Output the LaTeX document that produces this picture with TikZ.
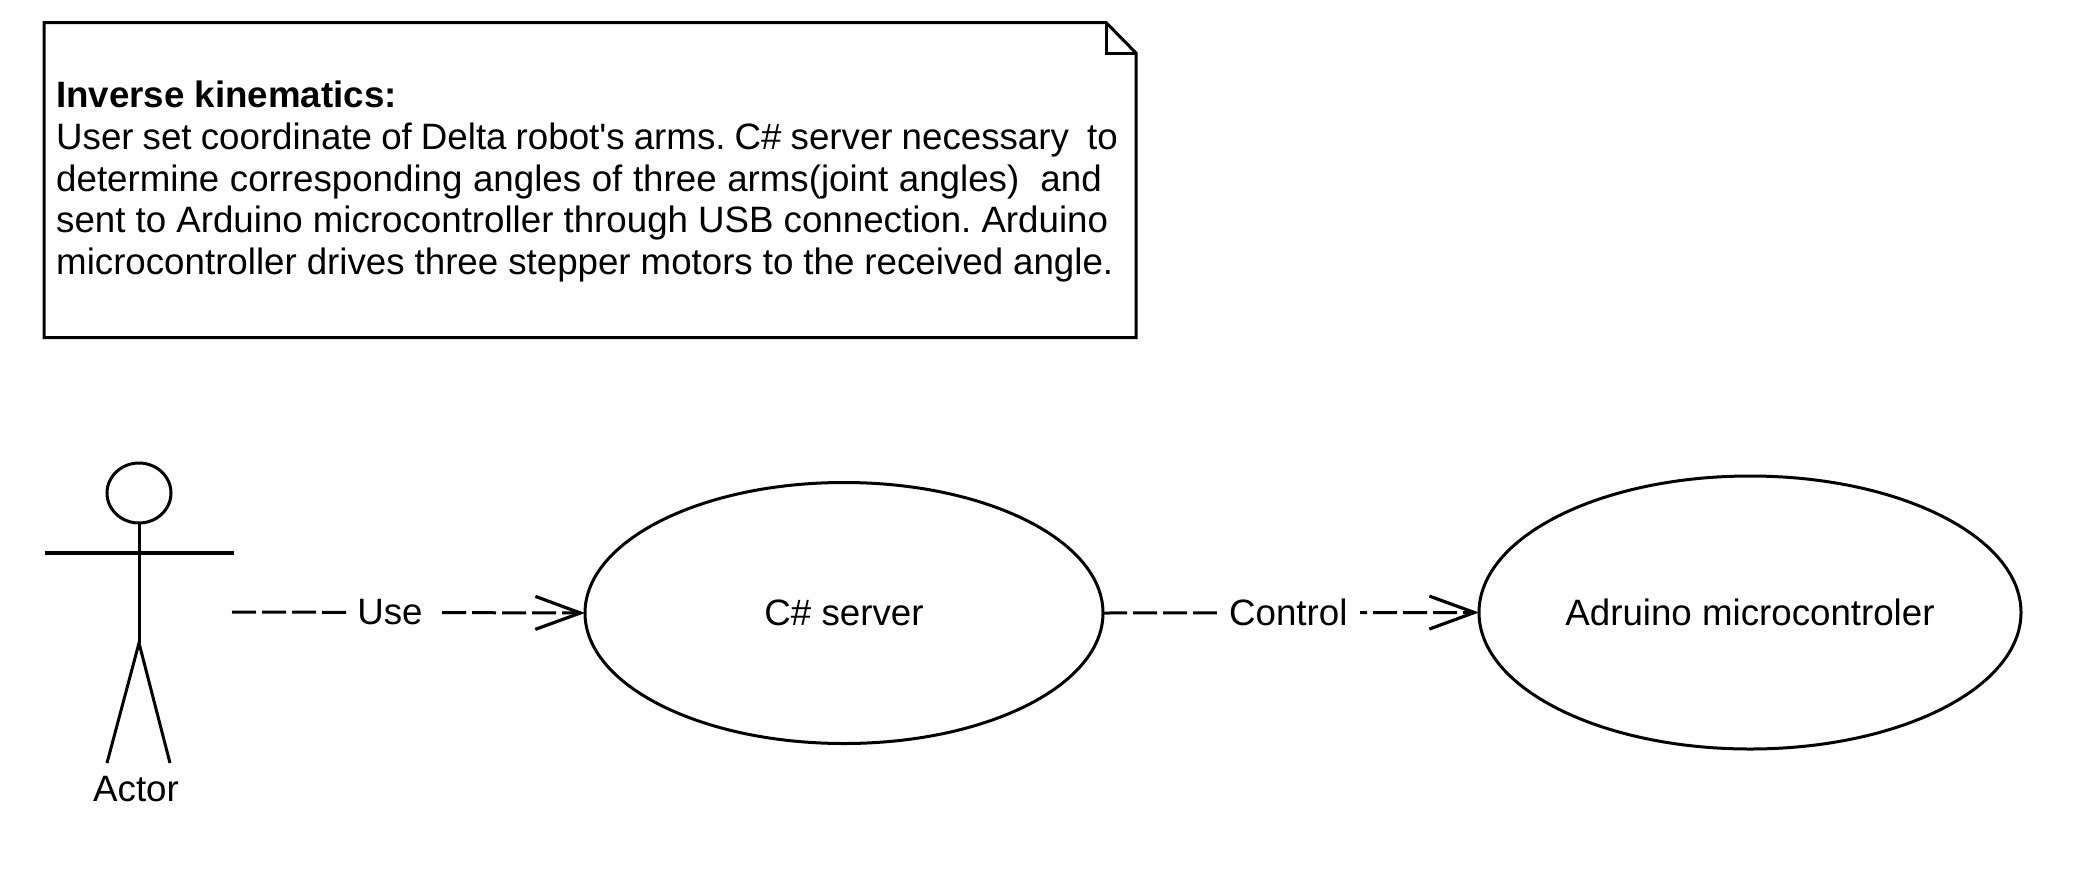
\documentclass[tikz,border=0pt]{standalone}
\usepackage{fontspec}
\setmainfont{Liberation Sans}
\newfontfamily\straightfont{Liberation Sans}
\usetikzlibrary{arrows.meta,shapes.geometric}
\tikzset{
  outline/.style={line width=3pt,black,line join=miter},
  limb/.style={outline},
  usecase/.style={ellipse,draw,line width=3pt,inner sep=0pt,outer sep=0pt,font=\fontsize{36.7}{42}\selectfont},
  depend/.style={line width=3pt,dash pattern=on 24pt off 6pt,-{Straight Barb[length=45pt,width=33pt,line width=3.2pt]}},
  flowlabel/.style={fill=white,inner sep=0pt,minimum height=36pt,font=\fontsize{36.7}{42}\selectfont},
  notetext/.style={align=left,inner sep=0pt,anchor=base west,font=\fontsize{36.7}{41.7}\selectfont\frenchspacing},
  plain/.style={inner sep=0pt,font=\fontsize{36.7}{42}\selectfont}
}
\begin{document}
\begin{tikzpicture}[x=1pt,y=-1pt]
\useasboundingbox (0,0) rectangle (2079,870);
% note
\draw[outline] (44,22.5) -- (1106,22.5) -- (1136,53) -- (1136,337.5) -- (44,337.5) -- cycle;
\draw[outline] (1106,22.5) -- (1106,53) -- (1136,53);
\node[notetext] (note) at (56,274.5) {\textbf{Inverse kinematics:}\\
\spaceskip=9.1pt User set coordinate of Delta robot{\straightfont '}s arms. C\# server necessary\ \ to\\
\spaceskip=10.6pt determine corresponding angles of three arms(joint angles)\ \ and\\
\spaceskip=10.1pt sent to Arduino microcontroller through USB connection. Arduino\\
\spaceskip=10pt microcontroller drives three stepper motors to the received angle.};
% actor
\node[ellipse,draw,line width=3pt,inner sep=0pt,outer sep=0pt,minimum width=64pt,minimum height=60pt] (head) at (139,493) {};
\coordinate (crotch) at (139,643);
\coordinate (lefthand) at (45,553);
\coordinate (righthand) at (233.5,553);
\coordinate (leftfoot) at (107,763);
\coordinate (rightfoot) at (170,763);
\coordinate (actorside) at (232,612);
\draw[limb] (head.south) -- (crotch);
\draw[limb,line width=3.6pt] (lefthand) -- (righthand);
\draw[limb] (leftfoot) -- (crotch) -- (rightfoot);
\node[plain,anchor=base] (actor) at (136,801) {Actor};
% use cases
\node[usecase,minimum width=518pt,minimum height=261pt] (server) at (844,613) {C\# server};
\node[usecase,minimum width=542pt,minimum height=273pt] (board) at (1750,612.5) {Adruino microcontroler};
% connectors
\draw[depend] (actorside) -- (server.west) node[flowlabel,pos=0.459,minimum width=95pt] (uselabel) {Use\kern8pt};
\draw[depend] (server.east) -- (board.west) node[flowlabel,pos=0.4927,minimum width=143pt] (controllabel) {Control};
\end{tikzpicture}
\end{document}
